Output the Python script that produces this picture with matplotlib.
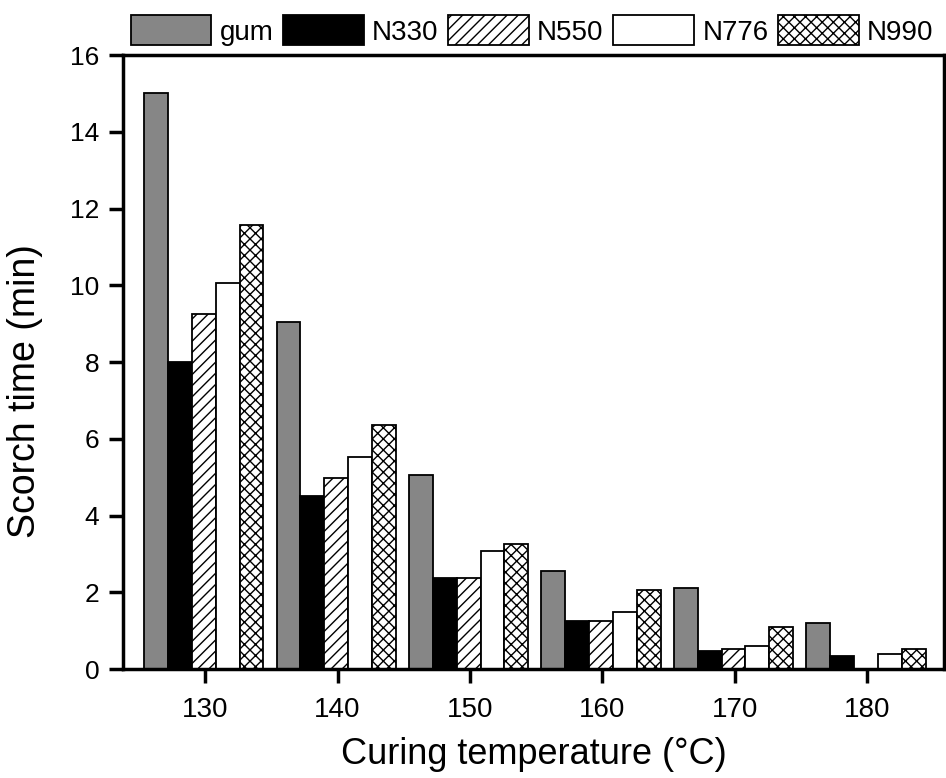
import matplotlib
matplotlib.use("Agg")
import matplotlib.pyplot as plt
import numpy as np

plt.rcParams['font.family'] = ['Liberation Sans', 'DejaVu Sans']
plt.rcParams['hatch.linewidth'] = 1.0

temperatures = [130, 140, 150, 160, 170, 180]
series_names = ['gum', 'N330', 'N550', 'N776', 'N990']
gum = [15.0, 9.05, 5.05, 2.55, 2.12, 1.2]
n330 = [8.0, 4.52, 2.36, 1.26, 0.48, 0.33]
n550 = [9.25, 4.98, 2.36, 1.26, 0.53, 0.0]
n776 = [10.05, 5.52, 3.07, 1.48, 0.6, 0.4]
n990 = [11.56, 6.37, 3.27, 2.05, 1.1, 0.53]
y_ticks = [0, 2, 4, 6, 8, 10, 12, 14, 16]

values = [gum, n330, n550, n776, n990]
styles = [
    dict(facecolor='#868686', hatch=None),
    dict(facecolor='black', hatch=None),
    dict(facecolor='white', hatch='///'),
    dict(facecolor='white', hatch=None),
    dict(facecolor='white', hatch='xxx'),
]

fig = plt.figure(figsize=(9.46, 7.78), dpi=100)
ax = fig.add_axes([0.130, 0.1401, 0.868, 0.7892])

width = 1.8
x = np.array(temperatures, dtype=float)
handles = []
for i, (vals, st) in enumerate(zip(values, styles)):
    b = ax.bar(x - 0.1 + (i - 2) * width, vals, width=width,
               facecolor=st['facecolor'], edgecolor='black', linewidth=1.3,
               hatch=st['hatch'], label=series_names[i])
    handles.append(b)

ax.set_xlim(123.8, 185.8)
ax.set_ylim(0, 16)
ax.set_xticks(temperatures)
ax.set_yticks(y_ticks)
ax.tick_params(axis='both', direction='out', length=10, width=2.5)
ax.tick_params(axis='x', pad=10, labelsize=20)
ax.tick_params(axis='y', pad=7, labelsize=19)
for sp in ax.spines.values():
    sp.set_linewidth(2.5)

ax.set_xlabel('Curing temperature (°C)', fontsize=26, labelpad=10)
ax.set_ylabel('Scorch time (min)', fontsize=27)
ax.yaxis.set_label_coords(-0.097, 0.453)

fig.legend(handles=handles, labels=series_names, loc='center', ncol=5,
           bbox_to_anchor=(0.5625, 0.961), frameon=False, fontsize=20,
           handlelength=2.9, handleheight=1.3, handletextpad=0.3,
           columnspacing=0.35, borderpad=0.1)

fig.savefig('out.png', dpi=100)
